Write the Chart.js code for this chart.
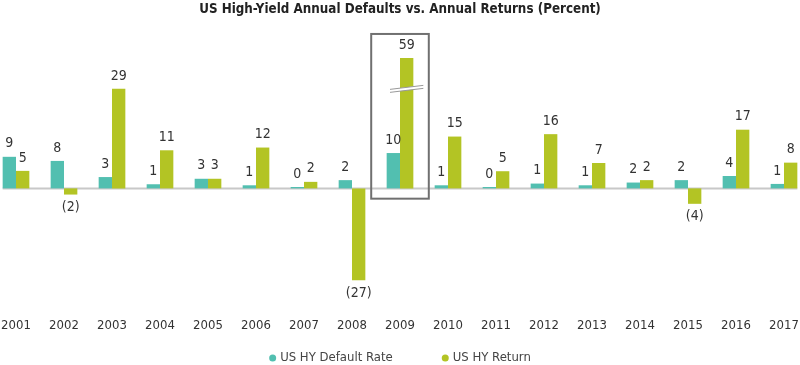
<!DOCTYPE html>
<html>
<head>
<meta charset="utf-8">
<script src="https://cdn.jsdelivr.net/npm/chart.js@4"></script>
<style>
  body { margin: 0; background: #fff; }
  #wrap { width: 800px; height: 365px; }
</style>
</head>
<body>
<div id="wrap"><canvas id="hyChart"></canvas></div>
<script>
const years = ["2001", "2002", "2003", "2004", "2005", "2006", "2007", "2008", "2009",
  "2010", "2011", "2012", "2013", "2014", "2015", "2016", "2017"];
const defaultRate = [9.2, 8.0, 3.3, 1.2, 2.8, 0.9, 0.4, 2.4, 10.3, 0.9, 0.4, 1.4, 0.9, 1.7, 2.4, 3.6, 1.3];
const hyReturn = [5.1, -1.8, 29.0, 11.1, 2.8, 11.9, 1.9, -26.8, 59.0, 15.1, 5.0, 15.8, 7.4, 2.4, -4.5, 17.1, 7.5];
const seriesNames = ["US HY Default Rate", "US HY Return"];
const colors = ["#52bfb0", "#b3c424"];

// 2009 return is drawn with an axis break
const breakIndex = 8;
const breakCap = 38;
const breakAt = 29;
const boxTop = 45, boxBottom = -3;

const FONT = '"Liberation Sans Narrow", "DejaVu Sans Condensed", "Roboto", sans-serif';
Chart.defaults.font.family = FONT;
Chart.defaults.color = "#333";

const fmt = (v) => {
  const r = Math.round(v);
  return r < 0 ? "(" + Math.abs(r) + ")" : String(r);
};

// zero line, 2009 box, break mark, value labels, legend
const extras = {
  id: "extras",
  beforeDatasetsDraw(chart) {
    const ctx = chart.ctx;
    const y0 = chart.scales.y.getPixelForValue(0);
    const first = chart.getDatasetMeta(0).data[0];
    const last = chart.getDatasetMeta(1).data[years.length - 1];
    ctx.save();
    ctx.strokeStyle = "#c8c8c8";
    ctx.lineWidth = 2;
    ctx.beginPath();
    ctx.moveTo(first.x - first.width / 2, y0);
    ctx.lineTo(last.x + last.width / 2, y0);
    ctx.stroke();
    ctx.restore();
  },
  afterDatasetsDraw(chart) {
    const ctx = chart.ctx;
    const xs = chart.scales.x, ys = chart.scales.y;
    ctx.save();

    // box round 2009
    const cw = xs.getPixelForValue(1) - xs.getPixelForValue(0);
    const cx = xs.getPixelForValue(breakIndex);
    const top = ys.getPixelForValue(boxTop), bot = ys.getPixelForValue(boxBottom);
    ctx.strokeStyle = "#707070";
    ctx.lineWidth = 2;
    ctx.strokeRect(cx - cw * 0.6, top, cw * 1.2, bot - top);

    // break mark on the 2009 return bar
    const bar = chart.getDatasetMeta(1).data[breakIndex];
    const yb = ys.getPixelForValue(breakAt);
    const x0 = bar.x - bar.width / 2 - 10, x1 = bar.x + bar.width / 2 + 10;
    ctx.fillStyle = "#fff";
    ctx.beginPath();
    ctx.moveTo(x0, yb + 3.5);
    ctx.lineTo(x1, yb - 0.5);
    ctx.lineTo(x1, yb - 3.5);
    ctx.lineTo(x0, yb + 0.5);
    ctx.closePath();
    ctx.fill();
    ctx.strokeStyle = "#999";
    ctx.lineWidth = 1;
    ctx.beginPath();
    ctx.moveTo(x0, yb + 3.5); ctx.lineTo(x1, yb - 0.5);
    ctx.moveTo(x0, yb + 0.5); ctx.lineTo(x1, yb - 3.5);
    ctx.stroke();

    // value labels
    ctx.font = "14px " + FONT;
    ctx.fillStyle = "#333";
    ctx.textAlign = "center";
    ctx.textBaseline = "middle";
    [defaultRate, hyReturn].forEach((vals, d) => {
      chart.getDatasetMeta(d).data.forEach((el, i) => {
        const v = vals[i];
        const y = v >= 0 ? el.y - 13 : el.y + 13;
        ctx.fillText(fmt(v), el.x, y);
      });
    });

    // legend
    ctx.font = "13px " + FONT;
    ctx.textAlign = "left";
    const gap = 49, r = 3.5;
    const widths = seriesNames.map((n) => 2 * r + 4 + ctx.measureText(n).width);
    let lx = chart.width / 2 - (widths[0] + widths[1] + gap) / 2;
    const ly = 358;
    seriesNames.forEach((n, i) => {
      ctx.fillStyle = colors[i];
      ctx.beginPath();
      ctx.arc(lx + r, ly, r, 0, Math.PI * 2);
      ctx.fill();
      ctx.fillStyle = "#444";
      ctx.fillText(n, lx + 2 * r + 4, ly);
      lx += widths[i] + gap;
    });
    ctx.restore();
  }
};

new Chart(document.getElementById("hyChart"), {
  type: "bar",
  data: {
    labels: years,
    datasets: [
      { label: seriesNames[0], data: defaultRate, backgroundColor: colors[0], clip: false },
      { label: seriesNames[1], data: hyReturn.map((v) => Math.min(v, breakCap)), backgroundColor: colors[1], clip: false }
    ]
  },
  options: {
    responsive: true,
    maintainAspectRatio: false,
    animation: false,
    layout: { padding: { left: 16, right: 16, top: 0, bottom: 32 } },
    datasets: { bar: { categoryPercentage: 0.556, barPercentage: 1 } },
    scales: {
      x: {
        offset: false,
        grid: { display: false, drawTicks: false },
        border: { display: false },
        ticks: { padding: 0, font: { size: 13 }, color: "#333", maxRotation: 0, autoSkip: false }
      },
      y: { display: false, min: -37.6, max: 45 }
    },
    plugins: {
      title: {
        display: true,
        text: "US High-Yield Annual Defaults vs. Annual Returns (Percent)",
        font: { size: 13.3, weight: "bold" },
        color: "#222",
        padding: { top: 2, bottom: 16 }
      },
      legend: { display: false },
      tooltip: { enabled: false }
    }
  },
  plugins: [extras]
});
</script>
</body>
</html>
